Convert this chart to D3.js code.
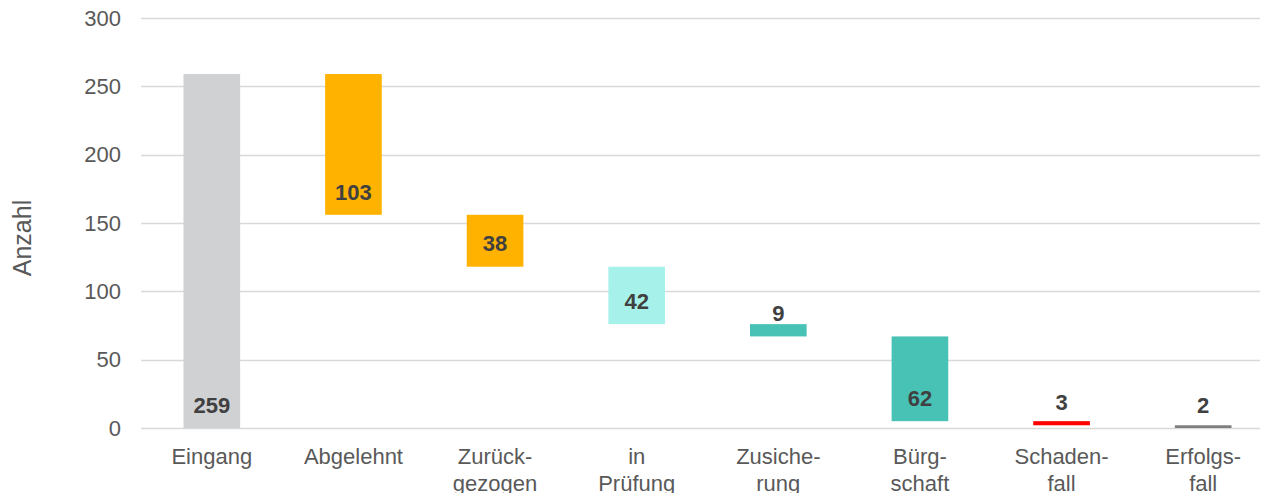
<!DOCTYPE html>
<html>
<head>
<meta charset="utf-8">
<script src="https://cdn.jsdelivr.net/npm/d3@7.8.5/dist/d3.min.js"></script>
<style>
  html, body { margin: 0; padding: 0; background: #fff; }
  svg { display: block; font-family: "Liberation Sans", Arial, sans-serif; }
</style>
</head>
<body>
<svg id="chart" width="1274" height="493"></svg>
<script>
// Categories (line-wrapped like the original) and counts
const categories = [
  ['Eingang'],
  ['Abgelehnt'],
  ['Zurück-', 'gezogen'],
  ['in', 'Prüfung'],
  ['Zusiche-', 'rung'],
  ['Bürg-', 'schaft'],
  ['Schaden-', 'fall'],
  ['Erfolgs-', 'fall']
];
const counts = [259, 103, 38, 42, 9, 62, 3, 2];
const yTicks = [0, 50, 100, 150, 200, 250, 300];

const barColors = ['#D0D1D3', '#FFB300', '#FFB300', '#A6F1E9', '#48C2B5', '#48C2B5', '#FF0000', '#7F7F7F'];

// waterfall: first bar is the total, the rest step down from it
let running = counts[0];
const bars = counts.map((v, i) => {
  if (i === 0) return { i, v, lo: 0, hi: v };
  const hi = running;
  running -= v;
  return { i, v, lo: running, hi };
});

const margin = { top: 18, right: 0, bottom: 65, left: 141 };
const W = 1274, H = 493;
const svg = d3.select('#chart');

const x = d3.scaleBand()
  .domain(d3.range(categories.length))
  .range([margin.left, W - margin.right])
  .paddingInner(0.6)
  .paddingOuter(0.3);

const y = d3.scaleLinear()
  .domain([0, 300])
  .range([H - margin.bottom, margin.top]);

// gridlines
svg.append('g')
  .selectAll('line')
  .data(yTicks)
  .join('line')
  .attr('x1', margin.left)
  .attr('x2', 1260)
  .attr('y1', d => Math.round(y(d)) + 0.5)
  .attr('y2', d => Math.round(y(d)) + 0.5)
  .attr('stroke', '#D9D9D9')
  .attr('stroke-width', 1.5);

// y axis labels
const yAxis = svg.append('g')
  .attr('transform', `translate(${margin.left - 20},0)`)
  .call(d3.axisLeft(y).tickValues(yTicks).tickSize(0).tickPadding(0));
yAxis.select('.domain').remove();
yAxis.selectAll('text')
  .attr('font-size', 22)
  .attr('fill', '#595959')
  .attr('font-family', '"Liberation Sans", Arial, sans-serif');

// y axis title
svg.append('text')
  .attr('transform', `translate(31,${(y(0) + y(300)) / 2 + 15}) rotate(-90)`)
  .attr('text-anchor', 'middle')
  .attr('font-size', 25)
  .attr('fill', '#595959')
  .text('Anzahl');

// bars
svg.append('g')
  .selectAll('rect')
  .data(bars)
  .join('rect')
  .attr('x', d => x(d.i))
  .attr('width', x.bandwidth())
  .attr('y', d => y(d.hi))
  .attr('height', d => y(d.lo) - y(d.hi))
  .attr('fill', d => barColors[d.i]);

// value labels: placed just above each bar's base (inside base)
svg.append('g')
  .selectAll('text')
  .data(bars)
  .join('text')
  .attr('x', d => x(d.i) + x.bandwidth() / 2)
  .attr('y', d => y(d.lo) - 23)
  .attr('dy', '0.35em')
  .attr('text-anchor', 'middle')
  .attr('font-size', 22)
  .attr('font-weight', 'bold')
  .attr('fill', '#404040')
  .text(d => d.v);

// category labels
const xAxis = svg.append('g')
  .selectAll('text')
  .data(categories)
  .join('text')
  .attr('x', (d, i) => x(i) + x.bandwidth() / 2)
  .attr('y', y(0) + 36)
  .attr('text-anchor', 'middle')
  .attr('font-size', 22)
  .attr('fill', '#595959');
xAxis.selectAll('tspan')
  .data(d => d)
  .join('tspan')
  .attr('x', function () { return d3.select(this.parentNode).attr('x'); })
  .attr('dy', (d, j) => j === 0 ? 0 : 27)
  .text(d => d);
</script>
</body>
</html>
